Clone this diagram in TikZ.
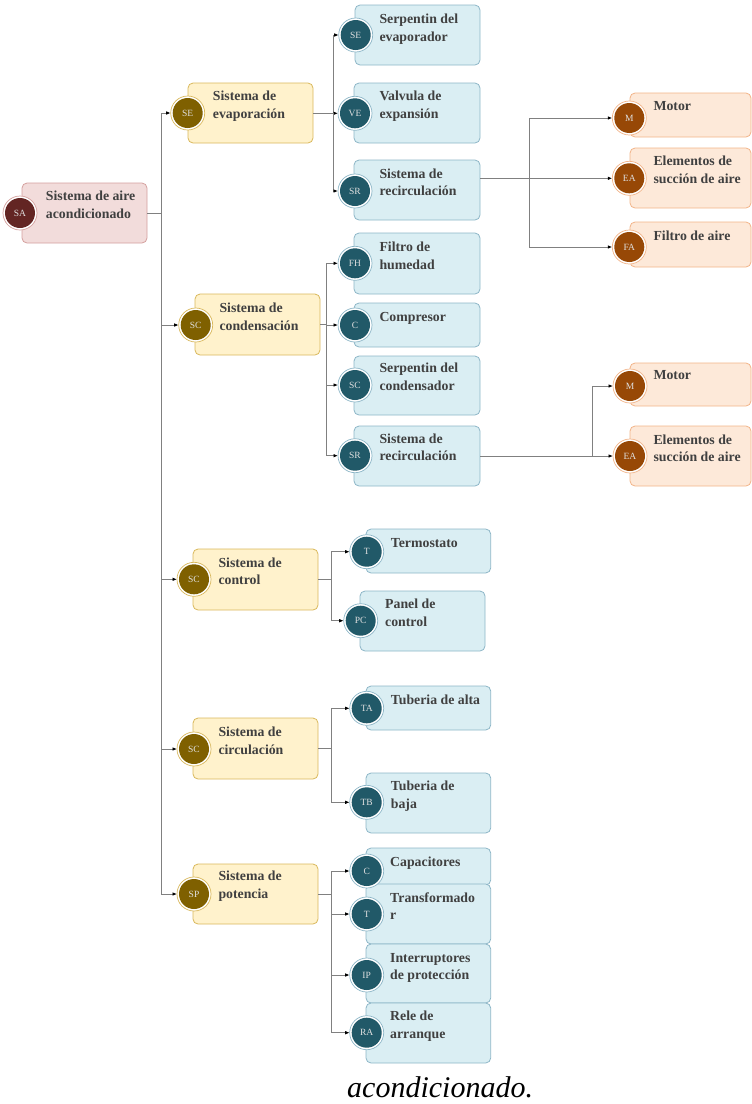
\documentclass[tikz,border=0pt]{standalone}
\usepackage{fontspec}
\setmainfont{Liberation Serif}
\usetikzlibrary{arrows.meta,fit,calc}
\pgfdeclarelayer{bg}
\pgfsetlayers{bg,main}

\definecolor{rootfill}{HTML}{F2DCDB}\definecolor{rootdraw}{HTML}{D4A09E}\definecolor{rootdark}{HTML}{632523}
\definecolor{yelfill}{HTML}{FFF2CC}\definecolor{yeldraw}{HTML}{D9B85C}\definecolor{yeldark}{HTML}{7F6000}
\definecolor{blufill}{HTML}{DAEEF3}\definecolor{bludraw}{HTML}{8DB6C7}\definecolor{bludark}{HTML}{215968}
\definecolor{orafill}{HTML}{FDE9D9}\definecolor{oradraw}{HTML}{F2B489}\definecolor{oradark}{HTML}{974806}
\definecolor{txtcol}{HTML}{404040}\definecolor{linecol}{HTML}{808080}

\tikzset{
 boxbase/.style={rectangle, rounded corners=5pt, line width=0.8pt, inner sep=0pt, outer sep=0pt},
 rootbox/.style={boxbase, fill=rootfill, draw=rootdraw},
 yelbox/.style={boxbase, fill=yelfill, draw=yeldraw},
 blubox/.style={boxbase, fill=blufill, draw=bludraw},
 orabox/.style={boxbase, fill=orafill, draw=oradraw},
 ringbase/.style={circle, minimum size=34pt, inner sep=0pt, outer sep=0pt, fill=white, line width=0.7pt},
 rootring/.style={ringbase, draw=rootdraw},
 yelring/.style={ringbase, draw=yeldraw},
 bluring/.style={ringbase, draw=bludraw},
 oraring/.style={ringbase, draw=oradraw},
 discbase/.style={circle, minimum size=30pt, inner sep=0pt, text=white!88!black, font=\fontsize{9.5}{11}\selectfont},
 rootdisc/.style={discbase, fill=rootdark},
 yeldisc/.style={discbase, fill=yeldark},
 bludisc/.style={discbase, fill=bludark},
 oradisc/.style={discbase, fill=oradark},
 txt/.style={anchor=north west, inner sep=0pt, align=left, text=txtcol, font=\fontsize{13.8}{17.5}\selectfont\bfseries, yshift=7.55pt},
 conn/.style={draw=linecol, line width=0.9pt, -{Latex[length=4.5pt,width=3.6pt,color=black]}},
}

\newcommand\ent[8]{%
 \coordinate (#1nw) at #3; \coordinate (#1se) at #4;
 \begin{pgfonlayer}{bg}\node[#2box, fit=(#1nw)(#1se)] (#1b) {};\end{pgfonlayer}
 \node[#2ring] (#1) at #5 {};
 \node[#2disc] (#1d) at #5 {#6};
 \node[txt] (#1t) at #7 {\strut #8};
}

\begin{document}
\begin{tikzpicture}[x=1pt,y=-1pt]
\useasboundingbox (0,0) rectangle (752,1104);

\ent{SA}{root}{(22,183)}{(147,243)}{(20,213)}{SA}{(45.7,195.7)}{Sistema de aire\\acondicionado}

\ent{SE1}{yel}{(188,83)}{(313,143)}{(187.7,113)}{SE}{(212.7,96)}{Sistema de\\evaporación}
\ent{SC1}{yel}{(195,294)}{(320,355)}{(195.7,325)}{SC}{(219.3,307.7)}{Sistema de\\condensación}
\ent{SC2}{yel}{(193,549)}{(318,610)}{(194,579.3)}{SC}{(218.3,562.3)}{Sistema de\\control}
\ent{SC3}{yel}{(193,718)}{(318,779)}{(194,749)}{SC}{(218.3,731.7)}{Sistema de\\circulación}
\ent{SP1}{yel}{(193,864)}{(318,924)}{(194,894)}{SP}{(218.3,876)}{Sistema de\\potencia}

\ent{SEv}{blu}{(355,5)}{(480,65)}{(355.7,35)}{SE}{(379.3,19)}{Serpentin del\\evaporador}
\ent{VE}{blu}{(354,83)}{(480,143)}{(355,113.3)}{VE}{(379.3,96)}{Valvula de\\expansión}
\ent{SRe}{blu}{(354,160)}{(480,220)}{(355,191)}{SR}{(379.3,173.3)}{Sistema de\\recirculación}
\ent{FH}{blu}{(354,233)}{(480,294)}{(355,263.3)}{FH}{(379.3,246.7)}{Filtro de\\humedad}
\ent{Cc}{blu}{(354,303)}{(480,347)}{(355,325)}{C}{(379.3,316.7)}{Compresor}
\ent{SCc}{blu}{(354,356)}{(480,415)}{(355,385)}{SC}{(379.3,367.7)}{Serpentin del\\condensador}
\ent{SRc}{blu}{(354,426)}{(480,486)}{(355,455.7)}{SR}{(379.3,438.3)}{Sistema de\\recirculación}
\ent{Tt}{blu}{(366,529)}{(490.7,573)}{(366.7,551.7)}{T}{(390.7,542.7)}{Termostato}
\ent{PC}{blu}{(360,591)}{(485,651)}{(360.7,620.7)}{PC}{(385,604)}{Panel de\\control}
\ent{TA}{blu}{(366,686)}{(490.7,730)}{(366.7,708.3)}{TA}{(390.7,699.3)}{Tuberia de alta}
\ent{TB}{blu}{(366,773)}{(490.7,833)}{(366.7,802.3)}{TB}{(390.7,786)}{Tuberia de\\baja}
\ent{Cp}{blu}{(366,848)}{(490.7,885)}{(366.7,871)}{C}{(390,861.7)}{Capacitores}
\ent{Tp}{blu}{(366,884)}{(490.7,944)}{(366.7,914)}{T}{(390,897.3)}{Transformado\\r}
\ent{IP}{blu}{(366,944)}{(490.7,1003)}{(366.7,975)}{IP}{(390,957.3)}{Interruptores\\de protección}
\ent{RA}{blu}{(366,1003)}{(490.7,1063)}{(366.7,1032.7)}{RA}{(390,1015.7)}{Rele de\\arranque}

\ent{M1}{ora}{(630,93)}{(751,137)}{(629.3,118)}{M}{(653.3,106)}{Motor}
\ent{EA1}{ora}{(630,148)}{(751,208)}{(629.3,178.3)}{EA}{(653.3,161)}{Elementos de\\succión de aire}
\ent{FA1}{ora}{(630,222)}{(751,267)}{(629.3,247)}{FA}{(653.3,235.7)}{Filtro de aire}
\ent{M2}{ora}{(630,363)}{(751,406)}{(630,386)}{M}{(653.3,375)}{Motor}
\ent{EA2}{ora}{(630,426)}{(751,486)}{(630,456)}{EA}{(653.3,439.3)}{Elementos de\\succión de aire}

% connectors
\foreach \c in {SE1,SC1,SC2,SC3,SP1} \draw[conn] (SAb.east) -- ++(14,0) |- (\c.west);
\foreach \c in {SEv,VE,SRe} \draw[conn] (SE1b.east) -- ++(20,0) |- (\c.west);
\foreach \c in {FH,Cc,SCc,SRc} \draw[conn] (SC1b.east) -- ++(6.7,0) |- (\c.west);
\foreach \c in {Tt,PC} \draw[conn] (SC2b.east) -- ++(13.7,0) |- (\c.west);
\foreach \c in {TA,TB} \draw[conn] (SC3b.east) -- ++(13.7,0) |- (\c.west);
\foreach \c in {Cp,Tp,IP,RA} \draw[conn] (SP1b.east) -- ++(13.7,0) |- (\c.west);
\draw[conn] (SReb.east |- EA1.west) -- (EA1.west);
\foreach \c in {M1,FA1} \draw[conn] (SReb.east |- EA1.west) -- ++(49,0) |- (\c.west);
\draw[conn] (SRcb.east |- EA2.west) -- (EA2.west);
\draw[conn] (SRcb.east |- EA2.west) -- ++(112,0) |- (M2.west);

\node[font=\fontsize{30}{36}\selectfont\itshape, anchor=base west, inner sep=0pt] (cap) at (347,1097) {acondicionado.};
\end{tikzpicture}
\end{document}
